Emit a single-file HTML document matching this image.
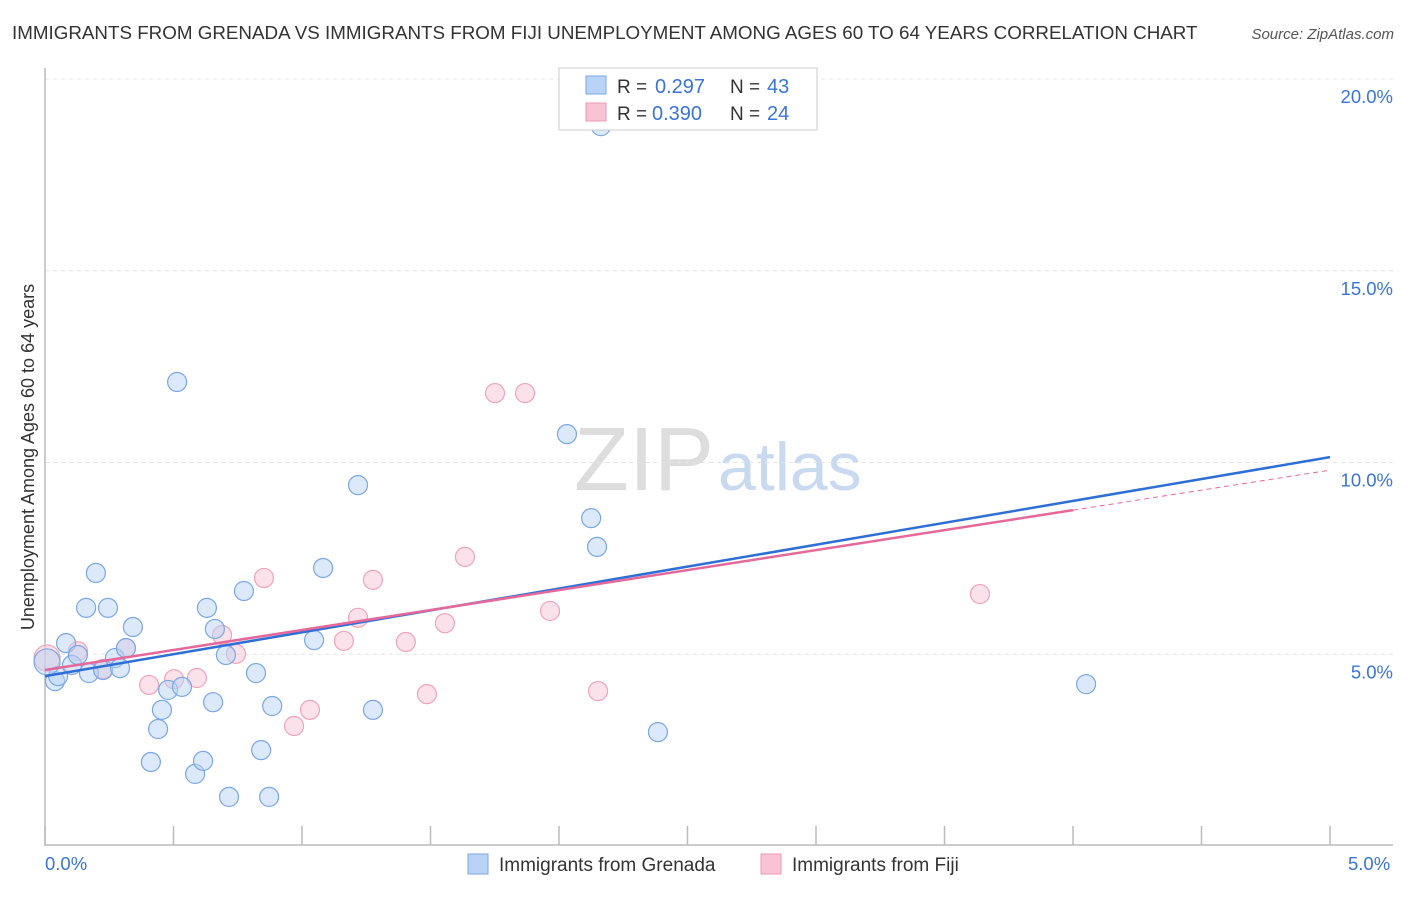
<!DOCTYPE html>
<html><head><meta charset="utf-8"><style>
body{margin:0;background:#fff;font-family:"Liberation Sans",sans-serif;}
svg text{font-family:"Liberation Sans",sans-serif;}
</style></head><body>
<svg id="c" width="1406" height="892" xmlns="http://www.w3.org/2000/svg">
<text x="12" y="39" font-size="18.8" fill="#333">IMMIGRANTS FROM GRENADA VS IMMIGRANTS FROM FIJI UNEMPLOYMENT AMONG AGES 60 TO 64 YEARS CORRELATION CHART</text>
<text x="1394" y="39" font-size="15" fill="#555" font-style="italic" text-anchor="end">Source: ZipAtlas.com</text>
<text x="714" y="490" font-size="90" fill="#ddd" text-anchor="end" font-family="Liberation Serif">ZIP</text>
<text x="718" y="490" font-size="68" fill="#c9daf0">atlas</text>
<text transform="translate(34,457) rotate(-90)" font-size="18" fill="#333" text-anchor="middle">Unemployment Among Ages 60 to 64 years</text>
<g id="grid"></g><g id="marks"></g>
<g>
<rect x="559" y="68" width="258" height="62" fill="#fff" stroke="#ccc"/>
<rect x="586" y="76" width="20" height="18" fill="#b8d3f5" stroke="#7aa7e5"/>
<rect x="586" y="103" width="20" height="18" fill="#f8c4d5" stroke="#ee99b5"/>
<text x="617" y="93" font-size="19" fill="#333">R = </text><text x="655" y="93" font-size="20" fill="#3a74d8">0.297</text>
<text x="730" y="93" font-size="19" fill="#333">N = </text><text x="767" y="93" font-size="20" fill="#3a74d8">43</text>
<text x="617" y="120" font-size="19" fill="#333">R = </text><text x="652" y="120" font-size="20" fill="#3a74d8">0.390</text>
<text x="730" y="120" font-size="19" fill="#333">N = </text><text x="767" y="120" font-size="20" fill="#3a74d8">24</text>
</g>
<g>
<rect x="468" y="854" width="20" height="20" fill="#b8d3f5" stroke="#7aa7e5"/>
<text x="499" y="871" font-size="19" fill="#333">Immigrants from Grenada</text>
<rect x="761" y="854" width="20" height="20" fill="#f8c4d5" stroke="#ee99b5"/>
<text x="792" y="871" font-size="19" fill="#333">Immigrants from Fiji</text>
</g>
</svg>
<script>
const blueX=[0.039,0.051,0.082,0.105,0.128,0.160,0.171,0.198,0.245,0.226,0.272,0.292,0.315,0.342,0.440,0.412,0.455,0.479,0.514,0.533,0.584,0.615,0.630,0.654,0.661,0.704,0.716,0.774,0.821,0.841,0.872,0.884,1.047,1.082,1.218,1.276,2.031,2.125,2.148,2.163,2.385,4.051,0.008];
const blueY=[4.30,4.43,5.29,4.72,4.98,6.21,4.51,7.12,6.21,4.59,4.90,4.64,5.16,5.71,3.05,2.19,3.55,4.07,12.10,4.15,1.88,2.22,6.21,3.75,5.66,4.98,1.28,6.65,4.51,2.50,1.28,3.65,5.37,7.25,9.41,3.55,10.74,8.55,7.80,18.77,2.97,4.22,4.80];
const pinkX=[0.008,0.128,0.226,0.315,0.405,0.502,0.591,0.689,0.743,0.852,0.969,1.031,1.163,1.218,1.276,1.404,1.486,1.556,1.634,1.751,1.868,1.965,2.152,3.638];
const pinkY=[4.90,5.08,4.62,5.16,4.20,4.35,4.38,5.50,5.01,6.99,3.13,3.55,5.35,5.95,6.94,5.32,3.96,5.81,7.54,11.81,11.81,6.13,4.04,6.57];
const blueLine=[4.43,10.14];
const pinkLine=[4.59,9.80];
const pinkSolidEnd=4.0;
const yTicks=[5,10,15,20];
const yTickLabels=["5.0%","10.0%","15.0%","20.0%"];
const xTicks=[0,0.5,1,1.5,2,2.5,3,3.5,4,4.5,5];
const xLabels=["0.0%","5.0%"];
const NS="http://www.w3.org/2000/svg";
const X=v=>45+v*257;
const Y=v=>846-v*38.35;
function mk(t,a,p){const e=document.createElementNS(NS,t);for(const k in a)e.setAttribute(k,a[k]);p.appendChild(e);return e;}
const g=document.getElementById('grid'),m=document.getElementById('marks');
yTicks.forEach((t,i)=>{
 const l=mk('line',{x1:45,x2:1393,y1:Y(t),y2:Y(t),stroke:'#e4e4e4','stroke-dasharray':'4,4'},g);
 
 
 const tx=mk('text',{x:1393,y:Y(t)+24,'font-size':18.5,fill:'#3a74d8','text-anchor':'end'},g);
 tx.textContent=yTickLabels[i];
 
 
});
const ax=mk('line',{x1:45,x2:45,y1:68,y2:846,stroke:'#bbb','stroke-width':1.5},g);


const bx=mk('line',{x1:45,x2:1393,y1:845,y2:845,stroke:'#bbb','stroke-width':1.5},g);


xTicks.forEach(t=>{const l=mk('line',{x1:X(t),x2:X(t),y1:826,y2:845,stroke:'#bbb','stroke-width':1.5},g);
 
 });
xLabels.forEach((s,i)=>{
 const t=mk('text',{x:i?1348:45,y:870,'font-size':18.5,fill:'#3a74d8'},g);t.textContent=s;
 
 });
function pts(xs,ys,fill,stroke,name){xs.forEach((x,i)=>{
 const big=(i===xs.length-1&&name==='grenada-point')||(i===0&&name==='fiji-point');
 const c=mk('circle',{cx:X(x),cy:Y(ys[i]),r:big?13:9.5,fill:fill,'fill-opacity':0.5,stroke:stroke,'stroke-width':1.2},m);
 
 });}
pts(pinkX,pinkY,'#f8c4d5','#f0a3bd','fiji-point');
pts(blueX,blueY,'#b8d3f5','#7aa7e5','grenada-point');
const bl=mk('line',{x1:X(0),y1:Y(blueLine[0]),x2:X(5),y2:Y(blueLine[1]),stroke:'#2e6fd6','stroke-width':2.5},m);


const pe=pinkLine[0]+(pinkLine[1]-pinkLine[0])*pinkSolidEnd/5;
const pl=mk('line',{x1:X(0),y1:Y(pinkLine[0]),x2:X(pinkSolidEnd),y2:Y(pe),stroke:'#e5689a','stroke-width':2.5},m);


const pd=mk('line',{x1:X(pinkSolidEnd),y1:Y(pe),x2:X(5),y2:Y(pinkLine[1]),stroke:'#e5689a','stroke-width':1,'stroke-dasharray':'5,4'},m);


</script>
</body></html>
